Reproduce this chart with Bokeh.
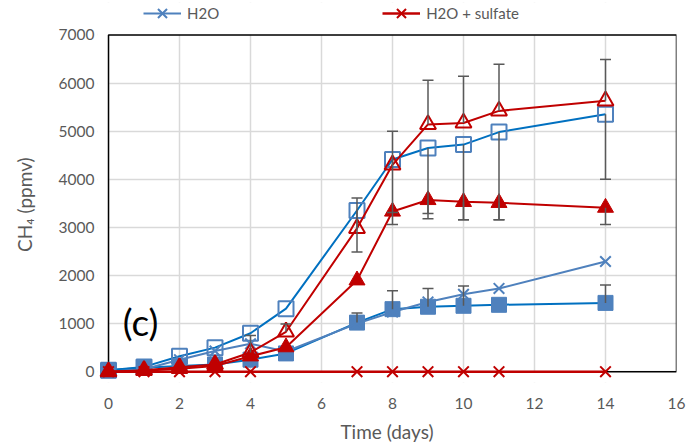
from bokeh.plotting import figure
from bokeh.models import (Range1d, FixedTicker, Whisker, TeeHead, ColumnDataSource,
                          Legend, LegendItem, BoxAnnotation, Label)
from bokeh.embed import file_html
from bokeh.resources import INLINE

# ---------------- data ----------------
days = [0, 1, 2, 3, 4, 5, 7, 8, 9, 10, 11, 14]
days_sulfate_cross = [0, 1, 2, 3, 4, 7, 8, 9, 10, 11, 14]

h2o_cross = [0, 50, 250, 430, 580, 420, 1000, 1240, 1450, 1610, 1730, 2290]
sulfate_cross = [0, 0, 0, 0, 0, 0, 0, 0, 0, 0, 0]

open_square = [30, 100, 320, 500, 800, 1310, 3350, 4410, 4650, 4720, 4980, 5350]
open_square_err_minus = [0, 0, 0, 0, 0, 0, 860, 1100, 1470, 1560, 1820, 1350]

filled_square = [30, 80, 120, 150, 250, 380, 1020, 1300, 1350, 1370, 1390, 1430]
filled_square_err_plus = [0, 0, 0, 0, 0, 0, 200, 380, 380, 410, 0, 370]

open_triangle = [0, 30, 90, 150, 400, 830, 2980, 4300, 5140, 5170, 5420, 5630]
open_triangle_err_plus = [0, 0, 0, 0, 350, 160, 630, 700, 920, 970, 970, 860]

filled_triangle = [0, 20, 60, 120, 320, 510, 1900, 3330, 3570, 3530, 3510, 3410]
filled_triangle_err_minus = [0, 0, 0, 0, 0, 0, 0, 270, 280, 370, 350, 350]

x_ticks = [0, 2, 4, 6, 8, 10, 12, 14, 16]
y_ticks = [0, 1000, 2000, 3000, 4000, 5000, 6000, 7000]

# ---------------- style ----------------
BLUE_LINE = "#0070C0"
BLUE_MARK = "#4F81BD"
BLUE_X = "#4F81BD"
RED = "#C00000"
ERR = "#595959"
TXT = "#595959"
GRID = "#D9D9D9"
FONT = "Lato"

W, H = 688, 445
DATA_TOP = 35          # canvas y of the 7000 line
BL, BR, BT, BB = 97, 12, 2, 56
PX_DAY = 35.5
PX_UNIT = 0.049
LEG_CY = 20            # canvas y of the legend row centre
LEG_GH = 32            # legend glyph height
frame_w = W - BL - BR
frame_h = H - BT - BB
x_min, x_max = 0, 16
y_min, y_max = 0, 7000
x_end = x_max
x_start = x_end - frame_w / PX_DAY
y_end = y_max + (DATA_TOP - BT) / PX_UNIT
y_start = y_end - frame_h / PX_UNIT

p = figure(width=W, height=H, output_backend="svg", toolbar_location=None,
           x_range=Range1d(x_start, x_end), y_range=Range1d(y_start, y_end),
           min_border_left=BL, min_border_right=BR, min_border_top=BT, min_border_bottom=BB)
p.outline_line_color = None
p.background_fill_color = "white"
p.border_fill_color = "white"

for ax, ticks in ((p.xaxis[0], x_ticks), (p.yaxis[0], y_ticks)):
    ax.ticker = FixedTicker(ticks=ticks)
    ax.axis_line_color = None
    ax.major_tick_line_color = None
    ax.minor_tick_line_color = None
    ax.major_tick_out = 0
    ax.major_tick_in = 0
    ax.minor_tick_out = 0
    ax.minor_tick_in = 0
    ax.major_label_text_font = FONT
    ax.major_label_text_font_size = "15.5px"
    ax.major_label_text_color = TXT
    ax.axis_label_text_font = FONT
    ax.axis_label_text_font_style = "normal"
    ax.axis_label_text_color = TXT
    ax.axis_label_text_font_size = "19px"

p.xaxis.major_label_standoff = 15
p.yaxis.major_label_standoff = 3
p.xaxis.axis_label = "Time (days)"
# trailing no-break spaces keep the title centred on the data area rather than on the frame
p.yaxis.axis_label = "CH\u2084 (ppmv)" + "\u00a0" * 5
p.xaxis.axis_label_standoff = 8
p.yaxis.axis_label_standoff = 20

p.xgrid.ticker = FixedTicker(ticks=x_ticks)
p.ygrid.ticker = FixedTicker(ticks=y_ticks)
p.grid.grid_line_color = GRID
p.grid.grid_line_width = 1.5

# white strips outside the data area, then the black frame round the data area
for kw in (dict(top=y_min), dict(right=x_min), dict(bottom=y_max)):
    p.add_layout(BoxAnnotation(fill_color="white", fill_alpha=1, line_color=None,
                               level="underlay", **kw))
p.add_layout(BoxAnnotation(left=x_min, right=x_max, bottom=y_min, top=y_max, fill_alpha=0,
                           line_color="black", line_alpha=1, line_width=1.5, level="underlay"))

# one-directional error bars
def add_err(xs, ys, errs, direction):
    sel = [(x, y, e) for x, y, e in zip(xs, ys, errs) if e > 0]
    sign = 1 if direction == "plus" else -1
    src = ColumnDataSource(dict(x=[s[0] for s in sel],
                                base_y=[s[1] for s in sel],
                                end_y=[s[1] + sign * s[2] for s in sel]))
    head = TeeHead(size=11, line_color=ERR, line_width=1.5)
    w = Whisker(source=src, base="x",
                upper="end_y" if sign > 0 else "base_y",
                lower="base_y" if sign > 0 else "end_y",
                dimension="height", line_color=ERR, line_width=1.5, level="glyph",
                upper_head=head if sign > 0 else None,
                lower_head=head if sign < 0 else None)
    p.add_layout(w)

add_err(days, open_square, open_square_err_minus, "minus")
add_err(days, filled_square, filled_square_err_plus, "plus")
add_err(days, open_triangle, open_triangle_err_plus, "plus")
add_err(days, filled_triangle, filled_triangle_err_minus, "minus")

# series
p.line(days, open_square, line_color=BLUE_LINE, line_width=2)
p.scatter(days, open_square, marker="square", size=15, line_color=BLUE_MARK, line_width=2, fill_alpha=0)

p.line(days, filled_square, line_color=BLUE_LINE, line_width=2)
p.scatter(days, filled_square, marker="square", size=15, line_color=BLUE_MARK, fill_color=BLUE_MARK)

l1 = p.line(days, h2o_cross, line_color=BLUE_X, line_width=2)
m1 = p.scatter(days, h2o_cross, marker="x", size=15, line_color=BLUE_X, line_width=2)

p.line(days, open_triangle, line_color=RED, line_width=2)
p.scatter(days, open_triangle, marker="triangle", size=16, line_color=RED, line_width=2, fill_alpha=0)

p.line(days, filled_triangle, line_color=RED, line_width=2)
p.scatter(days, filled_triangle, marker="triangle", size=16, line_color=RED, fill_color=RED)

l2 = p.line(days_sulfate_cross, sulfate_cross, line_color=RED, line_width=2.5)
m2 = p.scatter(days_sulfate_cross, sulfate_cross, marker="x", size=15, line_color=RED, line_width=2)

p.add_layout(Label(x=0.4, y=1050, text="(c)", text_font=FONT, text_font_size="37px",
                   text_color="black", text_baseline="middle", text_align="left"))

legend = Legend(items=[LegendItem(label="H2O", renderers=[l1, m1]),
                       LegendItem(label="H2O + sulfate", renderers=[l2, m2])],
                location=(143 - BL, (H - BB) - (LEG_CY + LEG_GH / 2)), orientation="horizontal",
                padding=0, margin=0, spacing=163, glyph_width=38, glyph_height=LEG_GH,
                label_height=LEG_GH, label_standoff=6, label_text_font=FONT,
                label_text_font_size="15px", label_text_color=TXT,
                background_fill_alpha=0, border_line_color=None)
p.add_layout(legend)

open("out.html", "w").write(file_html(p, INLINE))
